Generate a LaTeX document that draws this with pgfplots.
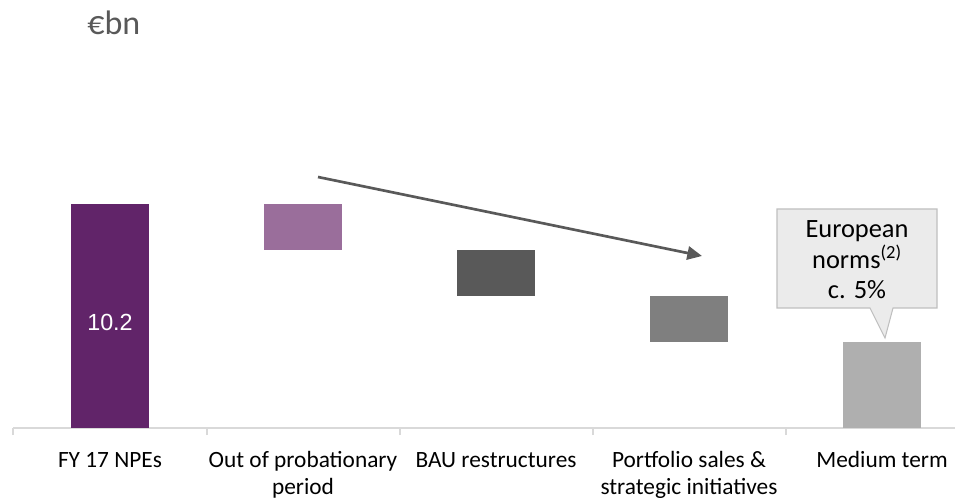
\documentclass[border=0pt]{standalone}
\usepackage{fontspec}
\setmainfont{Carlito}
\newfontfamily\arialfont{Liberation Sans}
\usepackage{pgfplots}
\pgfplotsset{compat=1.18}
\usetikzlibrary{arrows.meta}

\definecolor{npe}{HTML}{612469}
\definecolor{prob}{HTML}{9A6E9B}
\definecolor{bau}{HTML}{595959}
\definecolor{port}{HTML}{7F7F7F}
\definecolor{medium}{HTML}{AFAFAF}
\definecolor{axisgray}{HTML}{D9D9D9}
\definecolor{callfill}{HTML}{EBEBEB}
\definecolor{callline}{HTML}{BFBFBF}

\begin{document}
\begin{tikzpicture}
\useasboundingbox (0,0) rectangle (717pt,375pt);
\begin{axis}[
    at={(10.125pt,54pt)}, anchor=south west,
    x=144.75pt, y=16.47pt,
    xmin=-0.5, xmax=4.38, ymin=0, ymax=12,
    axis x line*=bottom,
    axis y line=none,
    ybar stacked, bar width=58.5pt,
    xtick={0,1,2,3,4},
    xticklabels={
        \strut FY 17 NPEs,
        \strut Out of probationary\\\strut period,
        \strut BAU restructures,
        \strut Portfolio sales \&\\\strut strategic initiatives,
        \strut Medium term},
    major tick length=0pt,
    minor xtick={-0.5,0.5,1.5,2.5,3.5},
    minor tick length=5.25pt,
    tick align=outside,
    x axis line style={draw=axisgray, line width=1.5pt},
    minor tick style={draw=axisgray, line width=1.5pt},
    xticklabel style={font=\fontsize{17.5}{20.25}\selectfont, align=center,
        text=black, inner sep=0pt, yshift=-15.6pt},
    clip=false,
]
% invisible base of the floating bars
\addplot[fill=none, draw=none] coordinates {(0,0) (1,8.1) (2,6.0) (3,3.9) (4,0)};
\addplot[fill=npe, draw=none] coordinates {(0,10.2) (1,0) (2,0) (3,0) (4,0)};
\addplot[fill=prob, draw=none] coordinates {(0,0) (1,2.1) (2,0) (3,0) (4,0)};
\addplot[fill=bau, draw=none] coordinates {(0,0) (1,0) (2,2.1) (3,0) (4,0)};
\addplot[fill=port, draw=none] coordinates {(0,0) (1,0) (2,0) (3,2.1) (4,0)};
\addplot[fill=medium, draw=none] coordinates {(0,0) (1,0) (2,0) (3,0) (4,3.9)};
\end{axis}

% annotations, in pixel coordinates of the reference
\begin{scope}[shift={(0,375pt)}, x=0.75pt, y=-0.75pt]
\node[text=white, font=\arialfont\fontsize{17.5}{21}\selectfont, anchor=base,
    inner sep=0pt] at (110,331) {10.2};
\node[anchor=base west, inner sep=0pt, text=bau,
    font=\fontsize{25.5}{30}\selectfont] at (87,35) {€bn};
\draw[bau, line width=2pt, -{Triangle[length=11pt,width=10pt]}]
    (318,177) -- (702,256);
\draw[callline, fill=callfill, line width=0.8pt]
    (777,209) -- (937,209) -- (937,308) -- (893,308) -- (885,338)
    -- (870,308) -- (777,308) -- cycle;
\begin{scope}[every node/.style={anchor=base, inner sep=0pt,
    font=\fontsize{19.8}{24}\selectfont, text=black}]
\node at (857,237.7) {European};
\node at (857,268.3) {norms\textsuperscript{(2)}};
\node at (857,299) {c. 5\%};
\end{scope}
\end{scope}
\end{tikzpicture}
\end{document}
